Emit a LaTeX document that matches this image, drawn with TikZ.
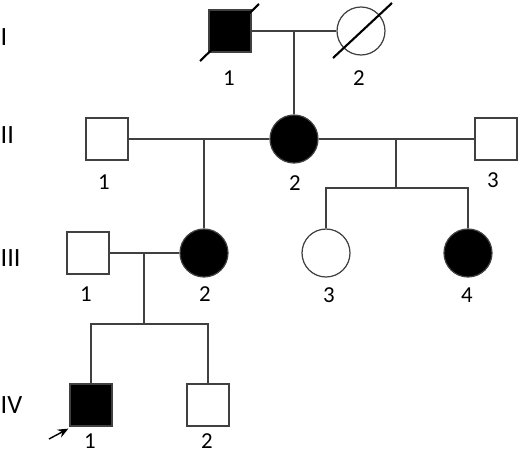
\documentclass[tikz,border=0pt]{standalone}
\usepackage{fontspec}
\setmainfont{Carlito}
\usepackage{tikz}
\usetikzlibrary{arrows.meta, positioning, calc}

\begin{document}
\begin{tikzpicture}[x=0.02cm, y=-0.02cm,
    line width=0.7pt, draw=black!75,
    male/.style={draw=black!75, rectangle, minimum size=0.84cm, inner sep=0pt},
    female/.style={draw=black!75, circle, minimum size=0.96cm, inner sep=0pt},
    aff/.style={fill=black},
    num/.style={font=\fontsize{13}{14}\selectfont, inner sep=0pt},
    gen/.style={font=\fontsize{15}{16}\selectfont, anchor=west, inner sep=0pt}]
  \useasboundingbox (0,0) rectangle (520,453);
  % generation labels
  \node[gen] (gI)   at (0,37)  {I};
  \node[gen] (gII)  at (0,135) {II};
  \node[gen] (gIII) at (0,258) {III};
  \node[gen] (gIV)  at (0,405) {IV};
  % I
  \node[male, aff] (I1) at (230,31) {};
  \node[female]    (I2) at (361,31) {};
  \draw[line width=1.2pt, black] ($(I1)+(-30,30)$) -- ($(I1)+(29,-27)$);
  \draw[line width=1.2pt, black] ($(I2)+(-28,27)$) -- ($(I2)+(31,-28)$);
  \node[num] (nI1) at (229,78) {1};
  \node[num] (nI2) at (359,78) {2};
  \coordinate (mI) at (294,31);
  \draw (I1.east) -- (I2.west);
  % II
  \node[male]        (II1) at (107,139) {};
  \node[female, aff] (II2) at (294,139) {};
  \node[male]        (II3) at (496,139) {};
  \node[num] (nII1) at (104,182) {1};
  \node[num] (nII2) at (295,183) {2};
  \node[num] (nII3) at (493,180) {3};
  \draw (mI) -- (II2.north);
  \draw (II1.east) -- (II2.west);
  \draw (II2.east) -- (II3.west);
  \coordinate (mIIa) at (204,139);
  \coordinate (mIIb) at (396,139);
  \coordinate (sII)  at (396,188);
  % III
  \node[male]        (III1) at (88,253)  {};
  \node[female, aff] (III2) at (204,253) {};
  \node[female]      (III3) at (326,253) {};
  \node[female, aff] (III4) at (468,253) {};
  \node[num] (nIII1) at (86,294)  {1};
  \node[num] (nIII2) at (205,294) {2};
  \node[num] (nIII3) at (329,295) {3};
  \node[num] (nIII4) at (467,295) {4};
  \draw (mIIa) -- (III2.north);
  \draw (mIIb) -- (sII);
  \draw (III3.north) |- (sII) -| (III4.north);
  \draw (III1.east) -- (III2.west);
  \coordinate (mIII) at (144,253);
  \coordinate (sIII) at (144,324);
  % IV
  \node[male, aff] (IV1) at (91,405)  {};
  \node[male]      (IV2) at (208,405) {};
  \node[num] (nIV1) at (90,441)  {1};
  \node[num] (nIV2) at (207,441) {2};
  \draw (mIII) -- (sIII);
  \draw (IV1.north) |- (sIII) -| (IV2.north);
  % proband
  \coordinate (pb) at (49,439);
  \draw[black, line width=0.8pt, -{Stealth[length=6pt, width=5pt]}] (pb) -- ($(IV1.south west)+(-1,2)$);
\end{tikzpicture}
\end{document}
